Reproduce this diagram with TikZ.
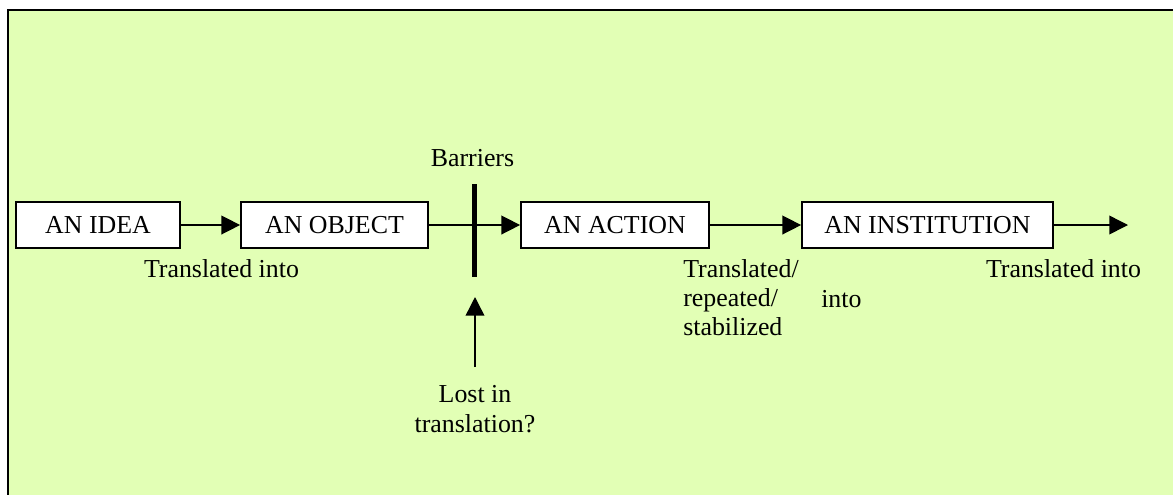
\documentclass[tikz,border=0pt]{standalone}
\usepackage{fontspec}
\setmainfont{Liberation Serif}
\usetikzlibrary{arrows.meta}
\definecolor{bgreen}{RGB}{226,255,181}
\begin{document}
\begin{tikzpicture}[x=0.75pt,y=-0.75pt,
  every node/.style={font=\fontsize{19.4pt}{22pt}\selectfont, inner sep=0pt},
  stage/.style={draw=black, fill=white, line width=1.3pt, minimum height=34.5pt},
  flow/.style={line width=1.1pt, -{Triangle[length=14pt,width=14pt]}},
  lbl/.style={anchor=base}
]
\useasboundingbox (0,0) rectangle (1173,494);
\fill[white] (0,0) rectangle (1173,494);
\draw[line width=1.5pt, fill=bgreen] (7.5,9.5) rectangle (1200,520);

\node[stage, minimum width=123pt] (idea) at (98,225) {AN IDEA};
\node[stage, minimum width=140.25pt] (object) at (334.5,225) {AN OBJECT};
\node[stage, minimum width=141pt] (action) at (615,225) {AN ACTION};
\node[stage, minimum width=188.25pt] (inst) at (927.5,225) {AN INSTITUTION};
\coordinate (end) at (1128,225);

\coordinate (bartop) at (474.5,184);
\coordinate (barbot) at (474.5,277);
\coordinate (upfrom) at (475,367);
\coordinate (upto) at (475,297);

\draw[flow] (idea) -- (object);
\draw[flow] (object) -- (action);
\draw[flow] (action) -- (inst);
\draw[flow] (inst) -- (end);
\draw[line width=3.8pt] (bartop) -- (barbot);
\draw[flow] (upfrom) -- (upto);

\node[lbl] (t1) at (221.5,277) {Translated into};
\node[lbl] (barriers) at (472.5,166) {Barriers};
\node[anchor=north, align=center, font=\fontsize{19.4pt}{22.5pt}\selectfont] (lost) at (475,385) {Lost in\\translation?};
\node[anchor=north west, align=left, font=\fontsize{19.4pt}{21.9pt}\selectfont] (t2) at (683,259) {Translated/\\repeated/\\stabilized};
\node[anchor=base west] (into) at (821,307) {into};
\node[lbl] (t3) at (1063.5,277) {Translated into};
\end{tikzpicture}
\end{document}
